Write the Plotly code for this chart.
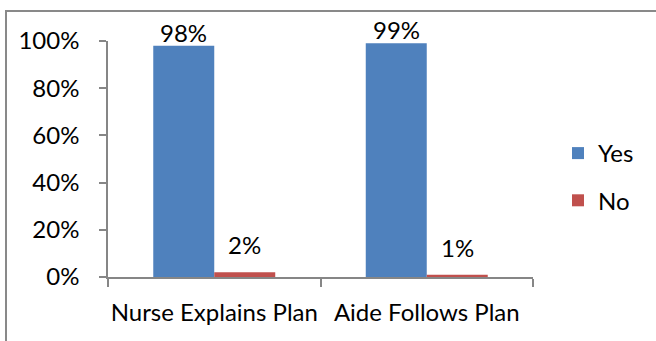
import plotly.graph_objects as go

# Survey results: share of respondents answering Yes / No
categories = ["Nurse Explains Plan", "Aide Follows Plan"]
yes_values = [98, 99]
no_values = [2, 1]
y_ticks = [0, 20, 40, 60, 80, 100]
y_tick_labels = ["0%", "20%", "40%", "60%", "80%", "100%"]

BLUE = "#4F81BD"
RED = "#C0504D"
AXIS = "#868686"
FONT = "Lato"
FS = 24

W, H = 656, 341
L, R, T, B = 108, 123, 41, 64

fig = go.Figure()
fig.add_trace(go.Bar(name="Yes", x=categories, y=yes_values, marker_color=BLUE,
                     marker_line_width=0, legendgroup="yes"))
fig.add_trace(go.Bar(name="No", x=categories, y=no_values, marker_color=RED,
                     marker_line_width=0, legendgroup="no"))

# value labels above each bar
half_bar = 30.5
for cat, v in zip(categories, yes_values):
    fig.add_annotation(x=cat, y=v, xref="x", yref="y", text=f"{v}%", showarrow=False,
                       xshift=-half_bar, yshift=-3, yanchor="bottom",
                       font=dict(family=FONT, size=FS, color="black"))
for cat, v in zip(categories, no_values):
    fig.add_annotation(x=cat, y=v, xref="x", yref="y", text=f"{v}%", showarrow=False,
                       xshift=half_bar, yshift=11, yanchor="bottom",
                       font=dict(family=FONT, size=FS, color="black"))

# chart frame
pw, ph = W - L - R, H - T - B
fig.add_shape(type="rect", xref="paper", yref="paper",
              x0=(6 - L) / pw, x1=(W + 10 - L) / pw,
              y0=(H - B - (H + 10)) / ph, y1=(H - B - 11) / ph,
              line=dict(color="#898989", width=2), fillcolor="rgba(0,0,0,0)", layer="below")

fig.update_layout(
    width=W, height=H,
    margin=dict(l=L, r=R, t=T, b=B, pad=0, autoexpand=False),
    paper_bgcolor="white", plot_bgcolor="white",
    barmode="group", bargap=0.426, bargroupgap=0,
    font=dict(family=FONT, size=FS, color="black"),
    showlegend=True,
    legend=dict(x=(558 - L) / pw, y=(H - B - 131) / ph, xanchor="left", yanchor="top",
                traceorder="grouped", tracegroupgap=13,
                font=dict(family=FONT, size=FS, color="black"),
                bgcolor="rgba(0,0,0,0)", borderwidth=0),
    xaxis=dict(showline=True, linecolor=AXIS, linewidth=1.5, ticks="outside",
               tickson="boundaries", ticklen=8, tickcolor=AXIS, tickwidth=1.5,
               showgrid=False, ticklabelstandoff=13, zeroline=False,
               tickangle=0, automargin=False),
    yaxis=dict(range=[0, 100], tickvals=y_ticks, ticktext=y_tick_labels,
               showline=True, linecolor=AXIS, linewidth=1.5, ticks="outside",
               ticklen=7, tickcolor=AXIS, tickwidth=1.5, showgrid=False,
               zeroline=False, ticklabelstandoff=15, automargin=False),
)

fig.write_html("out.html")
